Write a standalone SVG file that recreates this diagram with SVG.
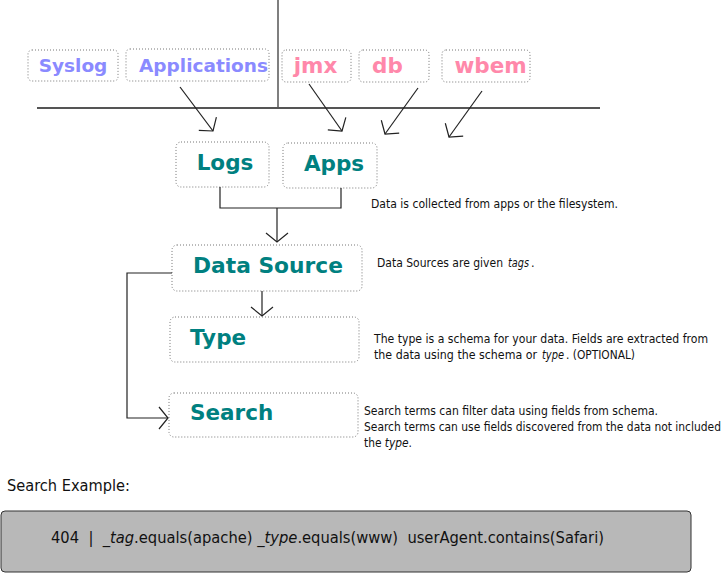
<svg xmlns="http://www.w3.org/2000/svg" width="725" height="574" viewBox="0 0 725 574">
<defs>
<style>
.box{fill:#fff;stroke:#777;stroke-width:1;stroke-dasharray:1 2}
.t{font-family:"DejaVu Sans",Verdana,sans-serif;font-weight:bold}
.blue{fill:#8a8aff;font-size:18.5px}
.pink{fill:#ff88aa;font-size:21.5px}
.teal{fill:#008080;font-size:21.5px}
.d{font-family:"DejaVu Sans Condensed",Roboto,"Liberation Sans",sans-serif;font-size:12.5px;fill:#111}
.i{font-style:italic}
.c{fill:none;stroke:#222;stroke-width:1.2}
</style>
<marker id="ah" markerUnits="userSpaceOnUse" markerWidth="24" markerHeight="24" refX="10" refY="12" orient="auto" viewBox="0 0 24 24">
<path d="M1,1 L10,12 L1,23" fill="none" stroke="#222" stroke-width="1.2"/>
</marker>
</defs>
<rect width="725" height="574" fill="#fff"/>
<g id="frame">
<line x1="278" y1="0" x2="278" y2="108" stroke="#555" stroke-width="1.5"/>
<line x1="37" y1="108" x2="600" y2="108" stroke="#555" stroke-width="2"/>
</g>
<g id="syslog"><rect class="box" x="28" y="50" width="90" height="31" rx="4"/><text class="t blue" x="73" y="72" text-anchor="middle">Syslog</text></g>
<g id="applications"><rect class="box" x="126" y="49" width="143" height="32" rx="4"/><text class="t blue" x="203.5" y="72" text-anchor="middle" textLength="129" lengthAdjust="spacingAndGlyphs">Applications</text></g>
<g id="jmx"><rect class="box" x="282" y="50" width="69" height="32" rx="4"/><text class="t pink" x="315.5" y="73" text-anchor="middle">jmx</text></g>
<g id="db"><rect class="box" x="359" y="50" width="70" height="32" rx="4"/><text class="t pink" x="387.5" y="73" text-anchor="middle">db</text></g>
<g id="wbem"><rect class="box" x="442" y="50" width="88" height="32" rx="4"/><text class="t pink" x="490.5" y="73" text-anchor="middle">wbem</text></g>
<g id="logs"><rect class="box" x="176" y="142" width="93" height="45" rx="5"/><text class="t teal" x="225" y="170" text-anchor="middle">Logs</text></g>
<g id="apps"><rect class="box" x="283" y="143" width="94" height="45" rx="5"/><text class="t teal" x="334" y="171" text-anchor="middle">Apps</text></g>
<g id="datasource"><rect class="box" x="172" y="245" width="190" height="46" rx="5"/><text class="t teal" x="193" y="273" textLength="150" lengthAdjust="spacingAndGlyphs">Data Source</text></g>
<g id="type"><rect class="box" x="170" y="317" width="189" height="45" rx="5"/><text class="t teal" x="190" y="345">Type</text></g>
<g id="search"><rect class="box" x="169" y="393" width="189" height="44" rx="5"/><text class="t teal" x="190" y="420">Search</text></g>
<g id="connectors">
<line class="c" x1="180" y1="87" x2="213" y2="131" marker-end="url(#ah)"/>
<line class="c" x1="309" y1="84" x2="342" y2="131" marker-end="url(#ah)"/>
<line class="c" x1="418" y1="88" x2="385" y2="134" marker-end="url(#ah)"/>
<line class="c" x1="482" y1="91" x2="449" y2="137" marker-end="url(#ah)"/>
<polyline class="c" points="220,187 220,208 341,208 341,188"/>
<line class="c" x1="277" y1="208" x2="277" y2="242" marker-end="url(#ah)"/>
<line class="c" x1="262" y1="291" x2="262" y2="316" marker-end="url(#ah)"/>
<polyline class="c" points="172,273 127,273 127,418 168,418" marker-end="url(#ah)"/>
</g>
<g id="notes">
<text class="d" x="371" y="208" textLength="247" lengthAdjust="spacingAndGlyphs">Data is collected from apps or the filesystem.</text>
<text class="d" x="377" y="267" textLength="126" lengthAdjust="spacingAndGlyphs">Data Sources are given</text>
<text class="d i" x="508" y="267" textLength="21" lengthAdjust="spacingAndGlyphs">tags</text>
<text class="d" x="531" y="267">.</text>
<text class="d" x="374" y="343" textLength="334" lengthAdjust="spacingAndGlyphs">The type is a schema for your data. Fields are extracted from</text>
<text class="d" x="374" y="359" textLength="163" lengthAdjust="spacingAndGlyphs">the data using the schema or</text>
<text class="d i" x="542" y="359" textLength="22" lengthAdjust="spacingAndGlyphs">type</text>
<text class="d" x="566" y="359" textLength="69" lengthAdjust="spacingAndGlyphs">. (OPTIONAL)</text>
<text class="d" x="364" y="415" textLength="294" lengthAdjust="spacingAndGlyphs">Search terms can filter data using fields from schema.</text>
<text class="d" x="364" y="431" style="font-size:11.5px" textLength="357" lengthAdjust="spacingAndGlyphs">Search terms can use fields discovered from the data not included</text>
<text class="d" x="364" y="447" textLength="48" lengthAdjust="spacingAndGlyphs">the <tspan class="i">type</tspan>.</text>
</g>
<g id="example">
<text class="d" x="7" y="491" style="font-size:16px" textLength="123" lengthAdjust="spacingAndGlyphs">Search Example:</text>
<rect x="1" y="511" width="690" height="61" rx="4" fill="#b8b8b8" stroke="#333" stroke-width="1"/>
<text class="d" x="51" y="543" style="font-size:16px" textLength="553" lengthAdjust="spacingAndGlyphs" xml:space="preserve">404  |  <tspan class="i">_tag</tspan>.equals(apache) <tspan class="i">_type</tspan>.equals(www)  userAgent.contains(Safari)</text>
</g>
</svg>
